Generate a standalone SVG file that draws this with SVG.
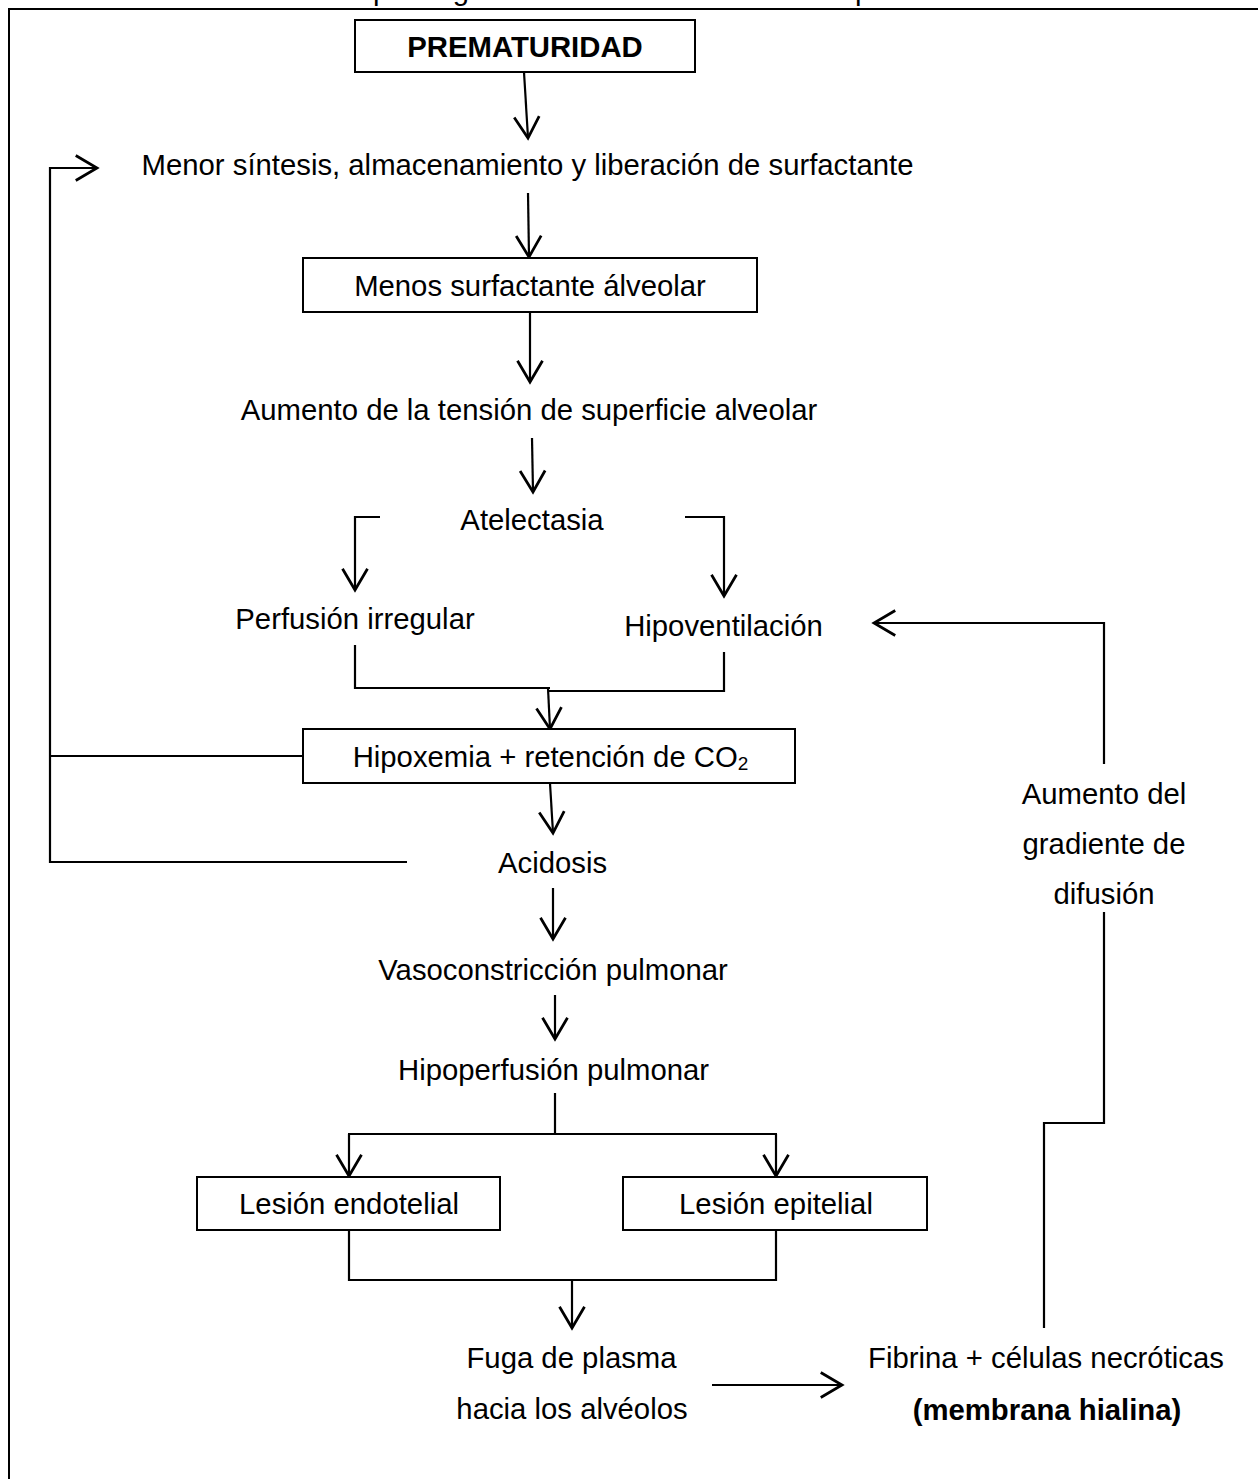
<svg xmlns="http://www.w3.org/2000/svg" width="1258" height="1479" viewBox="0 0 1258 1479">
<defs>
<style>
text{font-family:"Liberation Sans",Arial,sans-serif;font-size:29.3px;fill:#000;text-anchor:middle}
.b{font-weight:bold}
.box{fill:#fff;stroke:#000;stroke-width:2}
.c{fill:none;stroke:#000;stroke-width:2.2}
</style>
<marker id="ah" markerUnits="userSpaceOnUse" markerWidth="30" markerHeight="30" refX="0" refY="0" viewBox="-20 -12 22 24" orient="auto" overflow="visible">
<path d="M-17,-10 L0,0 L-17,10" fill="none" stroke="#000" stroke-width="2.2"/>
</marker>
</defs>
<rect width="1258" height="1479" fill="#fff"/>
<text x="636" y="0">Fisiopatología del síndrome de distrés respiratorio</text>
<rect x="9" y="9" width="1262" height="1485" fill="none" stroke="#000" stroke-width="2"/>
<g id="connectors">
<line class="c" x1="524" y1="72" x2="528" y2="138" marker-end="url(#ah)"/>
<line class="c" x1="528" y1="193" x2="529" y2="257" marker-end="url(#ah)"/>
<line class="c" x1="530" y1="312" x2="530" y2="382" marker-end="url(#ah)"/>
<line class="c" x1="532" y1="438" x2="533" y2="492" marker-end="url(#ah)"/>
<polyline class="c" points="380,517 355,517 355,590" marker-end="url(#ah)"/>
<polyline class="c" points="685,517 724,517 724,596" marker-end="url(#ah)"/>
<polyline class="c" points="355,645 355,688 550,688"/>
<polyline class="c" points="724,652 724,691 549,691"/>
<line class="c" x1="548" y1="688" x2="550" y2="729" marker-end="url(#ah)"/>
<line class="c" x1="550" y1="783" x2="553" y2="833" marker-end="url(#ah)"/>
<line class="c" x1="553" y1="888" x2="553" y2="939" marker-end="url(#ah)"/>
<line class="c" x1="555" y1="995" x2="555" y2="1039" marker-end="url(#ah)"/>
<line class="c" x1="555" y1="1093" x2="555" y2="1134"/>
<line class="c" x1="348" y1="1134" x2="777" y2="1134"/>
<line class="c" x1="349" y1="1134" x2="349" y2="1176" marker-end="url(#ah)"/>
<line class="c" x1="776" y1="1134" x2="776" y2="1176" marker-end="url(#ah)"/>
<polyline class="c" points="349,1230 349,1280 776,1280 776,1230"/>
<line class="c" x1="572" y1="1280" x2="572" y2="1328" marker-end="url(#ah)"/>
<line class="c" x1="712" y1="1385" x2="842" y2="1385" marker-end="url(#ah)"/>
<polyline class="c" points="1044,1328 1044,1123 1104,1123 1104,912"/>
<polyline class="c" points="1104,764 1104,623 874,623" marker-end="url(#ah)"/>
<line class="c" x1="303" y1="756" x2="50" y2="756"/>
<polyline class="c" points="407,862 50,862 50,168 97,168" marker-end="url(#ah)"/>
</g>
<g id="n-prematuridad"><rect class="box" x="355" y="20" width="340" height="52"/><text class="b" x="525" y="57">PREMATURIDAD</text></g>
<g id="n-menor"><text x="527.5" y="175">Menor síntesis, almacenamiento y liberación de surfactante</text></g>
<g id="n-menos"><rect class="box" x="303" y="258" width="454" height="54"/><text x="530" y="296">Menos surfactante álveolar</text></g>
<g id="n-aumento"><text x="529" y="420">Aumento de la tensión de superficie alveolar</text></g>
<g id="n-atelectasia"><text x="532" y="530">Atelectasia</text></g>
<g id="n-perfusion"><text x="355" y="629">Perfusión irregular</text></g>
<g id="n-hipoventilacion"><text x="723.5" y="636">Hipoventilación</text></g>
<g id="n-hipoxemia"><rect class="box" x="303" y="729" width="492" height="54"/><text x="550.5" y="767">Hipoxemia + retención de CO<tspan font-size="19" dy="3">2</tspan></text></g>
<g id="n-acidosis"><text x="552.5" y="873">Acidosis</text></g>
<g id="n-vaso"><text x="553" y="980">Vasoconstricción pulmonar</text></g>
<g id="n-hipoperfusion"><text x="553.5" y="1080">Hipoperfusión pulmonar</text></g>
<g id="n-endotelial"><rect class="box" x="197" y="1177" width="303" height="53"/><text x="349" y="1214">Lesión endotelial</text></g>
<g id="n-epitelial"><rect class="box" x="623" y="1177" width="304" height="53"/><text x="776" y="1214">Lesión epitelial</text></g>
<g id="n-fuga"><text x="571.5" y="1368">Fuga de plasma</text><text x="572" y="1419">hacia los alvéolos</text></g>
<g id="n-fibrina"><text x="1046" y="1368">Fibrina + células necróticas</text><text class="b" x="1047" y="1420">(membrana hialina)</text></g>
<g id="n-gradiente"><text x="1104" y="804">Aumento del</text><text x="1104" y="854">gradiente de</text><text x="1104" y="904">difusión</text></g>
</svg>
